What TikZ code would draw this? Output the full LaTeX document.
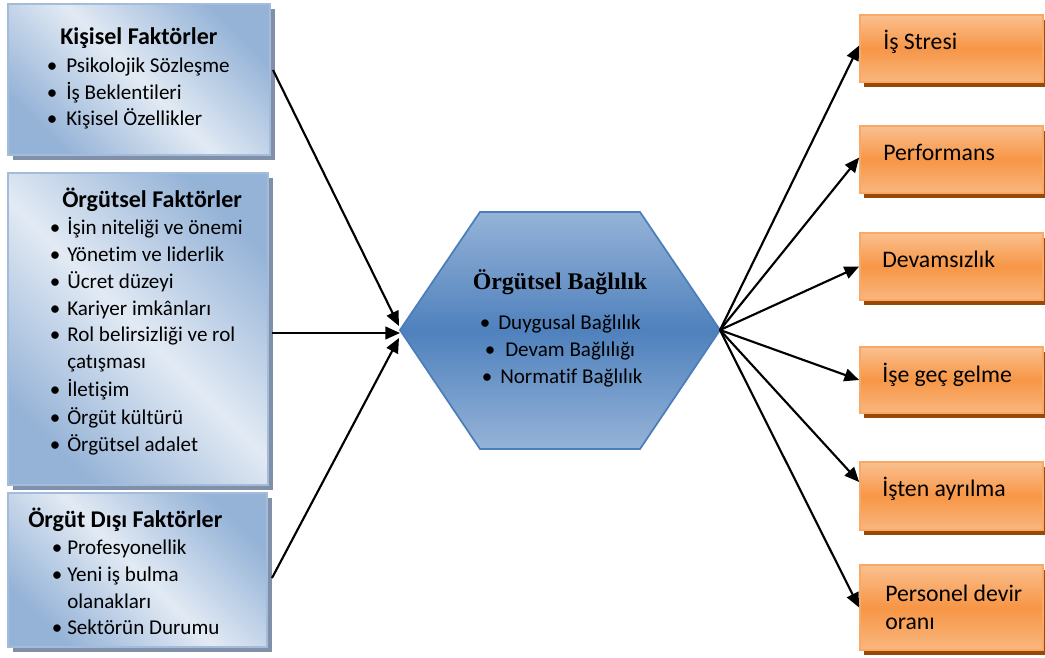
\documentclass[tikz,border=0pt]{standalone}
\usepackage{fontspec}
\setmainfont[Ligatures=NoCommon]{Carlito}
\newfontfamily\hexserif{Liberation Serif}
\usetikzlibrary{arrows.meta,shadows,calc}
\definecolor{ldark}{HTML}{95B3D7}
\definecolor{llight}{HTML}{E2EAF4}
\definecolor{lborder}{HTML}{A3BCDC}
\definecolor{lshadow}{HTML}{8090A8}
\definecolor{otop}{HTML}{FAC08F}
\definecolor{omid}{HTML}{F79646}
\definecolor{obot}{HTML}{F9B77F}
\definecolor{oborder}{HTML}{F9A865}
\definecolor{oshadow}{HTML}{984807}
\definecolor{htop}{HTML}{95B3D7}
\definecolor{hmid}{HTML}{4F81BD}
\definecolor{hbot}{HTML}{95B3D7}
\definecolor{hborder}{HTML}{4A7EBB}
\definecolor{hshadow}{HTML}{2C4D75}
\newcommand\fbody{\fontsize{15.8}{19}\selectfont}
\newcommand\ftitle{\fontsize{18}{21}\selectfont\bfseries}
\newcommand\fright{\fontsize{17.8}{21}\selectfont}
\newcommand\fhex{\fontsize{17.9}{21}\selectfont\hexserif\bfseries}
\newcommand\itm[5]{%
  \node[tx, font=\fbody] (#1) at (#3,#4) {#5};
  \node[tx, font=\fbody, anchor=center] (#1d) at (#2,#4) {\textbullet};}
\begin{document}
\begin{tikzpicture}[x=0.75pt,y=-0.75pt,
  tx/.style={anchor=west, inner sep=0pt, text depth=0pt, text height=10pt},
  txr/.style={anchor=west, inner sep=0pt, text depth=0pt, text height=11.5pt, font=\fright},
  txt/.style={anchor=west, inner sep=0pt, text depth=0pt, text height=11.6pt, font=\ftitle},
  lbox/.style={draw=lborder, line width=1.3pt, top color=ldark, bottom color=ldark, middle color=llight, shading angle=-45, inner sep=0pt,
    drop shadow={shadow xshift=3.5pt, shadow yshift=-3.75pt, fill=lshadow, opacity=1}},
  obox/.style={draw=oborder, line width=1.3pt, top color=otop, bottom color=obot, middle color=omid, inner sep=0pt,
    drop shadow={shadow xshift=3pt, shadow yshift=-3.75pt, fill=oshadow, opacity=1}},
  arr/.style={-{Triangle[length=11pt,width=9.5pt]}, line width=1.6pt, black}]
\useasboundingbox[fill=white] (0,0) rectangle (1045,657);

% left boxes
\node[lbox, minimum width=196.5pt, minimum height=113.25pt] (b1) at (139,79.5) {};
\node[lbox, minimum width=195pt, minimum height=234pt] (b2) at (138,329) {};
\node[lbox, minimum width=194.25pt, minimum height=115.5pt] (b3) at (137.5,570) {};

\node[txt] (b1t) at (60,37) {Kişisel Faktörler};
\itm{b1i1}{52}{66}{66}{Psikolojik Sözleşme}
\itm{b1i2}{52}{66}{92.5}{İş Beklentileri}
\itm{b1i3}{52}{66}{119}{Kişisel Özellikler}

\node[txt] (b2t) at (62,200) {Örgütsel Faktörler};
\itm{b2i1}{55}{67}{228}{İşin niteliği ve önemi}
\itm{b2i2}{55}{67}{255}{Yönetim ve liderlik}
\itm{b2i3}{55}{67}{282}{Ücret düzeyi}
\itm{b2i4}{55}{67}{308.5}{Kariyer imkânları}
\itm{b2i5}{55}{67}{335}{Rol belirsizliği ve rol}
\node[tx, font=\fbody] (b2i5b) at (67,362) {çatışması};
\itm{b2i6}{55}{67}{390}{İletişim}
\itm{b2i7}{55}{67}{418}{Örgüt kültürü}
\itm{b2i8}{55}{67}{445}{Örgütsel adalet}

\node[txt] (b3t) at (28,520) {Örgüt Dışı Faktörler};
\itm{b3i1}{57}{67}{548}{Profesyonellik}
\itm{b3i2}{57}{67}{575}{Yeni iş bulma}
\node[tx, font=\fbody] (b3i2b) at (67,602) {olanakları};
\itm{b3i3}{57}{67}{628}{Sektörün Durumu}

% hexagon
\coordinate (hW) at (400,330);
\coordinate (hNW) at (480,212);
\coordinate (hNE) at (640,212);
\coordinate (hE) at (720,330);
\coordinate (hSE) at (640,449);
\coordinate (hSW) at (480,449);
\fill[hshadow, shift={(3,6)}] (hW) -- (hNW) -- (hNE) -- (hE) -- (hSE) -- (hSW) -- cycle;
\draw[draw=hborder, line width=1.3pt, top color=htop, bottom color=hbot, middle color=hmid]
  (hW) -- (hNW) -- (hNE) -- (hE) -- (hSE) -- (hSW) -- cycle;
\node[font=\fhex, inner sep=0pt] (ht) at (560,282) {Örgütsel Bağlılık};
\itm{hi1}{485}{498}{323}{Duygusal Bağlılık}
\itm{hi2}{490}{505}{350}{Devam Bağlılığı}
\itm{hi3}{487}{500}{377}{Normatif Bağlılık}

% right boxes
\node[obox, minimum width=137.25pt, minimum height=50.25pt] (r1) at (951.5,48.5) {};
\node[obox, minimum width=137.25pt, minimum height=50.25pt] (r2) at (951.5,159.5) {};
\node[obox, minimum width=137.25pt, minimum height=50.25pt] (r3) at (951.5,266.5) {};
\node[obox, minimum width=137.25pt, minimum height=49.5pt] (r4) at (951.5,380) {};
\node[obox, minimum width=137.25pt, minimum height=51pt] (r5) at (951.5,496) {};
\node[obox, minimum width=137.25pt, minimum height=63.75pt] (r6) at (951.5,607.5) {};

\node[txr] (r1t) at (883,42) {İş Stresi};
\node[txr] (r2t) at (883,153) {Performans};
\node[txr] (r3t) at (882,260) {Devamsızlık};
\node[txr] (r4t) at (882,375) {İşe geç gelme};
\node[txr] (r5t) at (882,489) {İşten ayrılma};
\node[txr] (r6t) at (885,594) {Personel devir};
\node[txr] (r6u) at (885,622) {oranı};

% arrows left
\coordinate (s1) at (273,70);
\coordinate (s2) at (272,333);
\coordinate (s3) at (272,578);
\draw[arr] (s1) -- ($(hW)+(-1,-4)$);
\draw[arr] (s2) -- ($(hW)+(0,3)$);
\draw[arr] (s3) -- ($(hW)+(-1,8)$);

% arrows right
\draw[arr] (hE) -- ($(r1.west)+(0,-3)$);
\draw[arr] (hE) -- ($(r2.west)+(0,-2)$);
\draw[arr] (hE) -- (r3.west);
\draw[arr] (hE) -- (r4.west);
\draw[arr] (hE) -- ($(r5.west)+(0,-14)$);
\draw[arr] (hE) -- (r6.west);
\end{tikzpicture}
\end{document}
